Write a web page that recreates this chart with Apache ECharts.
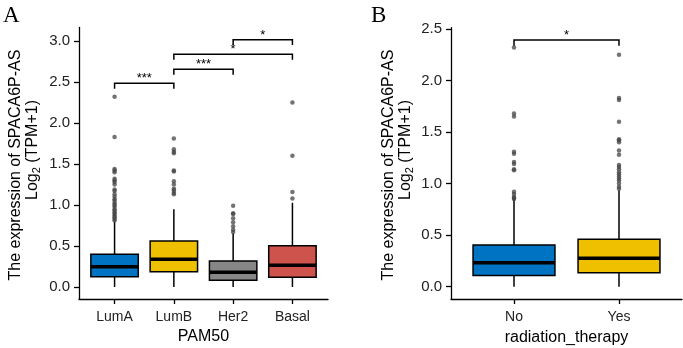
<!DOCTYPE html>
<html><head><meta charset="utf-8">
<script src="https://cdn.jsdelivr.net/npm/echarts@6/dist/echarts.min.js"></script>
<style>html,body{margin:0;padding:0;background:#fff}#c{width:683px;height:348px}</style>
</head><body><div id="c"></div>
<script>
// ---------- Panel A data ----------
const categoriesA = ['LumA', 'LumB', 'Her2', 'Basal'];
// [whisker low, Q1, median, Q3, whisker high]
const statsA = [
  [0.00, 0.126, 0.248, 0.399, 0.80],
  [0.00, 0.187, 0.338, 0.561, 0.948],
  [0.00, 0.082, 0.179, 0.317, 0.655],
  [0.00, 0.118, 0.265, 0.504, 1.028]
];
const outliersLumA = [0.81, 0.83, 0.85, 0.87, 0.89, 0.91, 0.93, 0.95, 0.98, 1.00, 1.02, 1.05, 1.07, 1.10, 1.13, 1.17, 1.19, 1.25, 1.28, 1.30, 1.32, 1.40, 1.42, 1.44, 1.83, 2.32];
const outliersLumB = [1.13, 1.15, 1.18, 1.20, 1.25, 1.29, 1.41, 1.42, 1.63, 1.65, 1.68, 1.81];
const outliersHer2 = [0.67, 0.70, 0.74, 0.79, 0.84, 0.89, 0.90, 0.99];
const outliersBasal = [1.08, 1.16, 1.60, 2.25];
const outliersA = [outliersLumA, outliersLumB, outliersHer2, outliersBasal];
const yTicksA = [0, 0.5, 1, 1.5, 2, 2.5, 3];
// [from category, to category, height]
const bracketsA = [
  [1, 2, 2.484],
  [2, 3, 2.655],
  [2, 4, 2.838],
  [3, 4, 3.016]
];
const bracketLabelsA = ['***', '***', '*', '*'];

// ---------- Panel B data ----------
const categoriesB = ['No', 'Yes'];
const statsB = [
  [0.00, 0.110, 0.233, 0.404, 0.845],
  [0.00, 0.136, 0.275, 0.460, 0.935]
];
const outliersNo = [0.85, 0.86, 0.87, 0.90, 0.92, 1.13, 1.14, 1.19, 1.21, 1.29, 1.31, 1.65, 1.68, 2.32];
const outliersYes = [0.95, 0.97, 1.00, 1.03, 1.05, 1.07, 1.09, 1.11, 1.14, 1.16, 1.18, 1.28, 1.32, 1.40, 1.42, 1.43, 1.60, 1.81, 1.83, 2.25];
const outliersB = [outliersNo, outliersYes];
const yTicksB = [0, 0.5, 1, 1.5, 2, 2.5];
const bracketsB = [
  [1, 2, 2.393]
];
const bracketLabelsB = ['*'];

const colorsA = ['#0073C2', '#EFC000', '#868686', '#CD534C'];
const colorsB = ['#0073C2', '#EFC000'];

const FONT = '"Liberation Sans", Arial, sans-serif';
const SERIF = '"Liberation Serif", "Times New Roman", serif';

function boxData(stats) { return stats.map((s, i) => [i + 1].concat(s)); }
function outData(outs) {
  const r = [];
  outs.forEach((arr, i) => arr.forEach(v => r.push([i + 1, v])));
  return r;
}
function boxRender(colors, w) {
  return function (params, api) {
    const x = api.value(0);
    const lo = api.value(1), q1 = api.value(2), med = api.value(3), q3 = api.value(4), hi = api.value(5);
    const pLo = api.coord([x, lo]), pQ1 = api.coord([x, q1]), pQ3 = api.coord([x, q3]), pHi = api.coord([x, hi]);
    const tl = api.coord([x - w / 2, q3]), br = api.coord([x + w / 2, q1]);
    const mL = api.coord([x - w / 2, med]), mR = api.coord([x + w / 2, med]);
    const ls = { stroke: '#000', lineWidth: 1.5 };
    return {
      type: 'group', children: [
        { type: 'line', shape: { x1: pLo[0], y1: pLo[1], x2: pQ1[0], y2: pQ1[1] }, style: ls },
        { type: 'line', shape: { x1: pQ3[0], y1: pQ3[1], x2: pHi[0], y2: pHi[1] }, style: ls },
        { type: 'rect', shape: { x: tl[0], y: tl[1], width: br[0] - tl[0], height: br[1] - tl[1] },
          style: { fill: colors[params.dataIndex], stroke: '#000', lineWidth: 1.5 } },
        { type: 'line', shape: { x1: mL[0], y1: mL[1], x2: mR[0], y2: mR[1] }, style: { stroke: '#000', lineWidth: 3.5 } }
      ]
    };
  };
}
function bracketRender(labels, tickUnits) {
  return function (params, api) {
    const x1 = api.value(0), x2 = api.value(1), y = api.value(2);
    const label = labels[params.dataIndex];
    const a = api.coord([x1, y - tickUnits]), b = api.coord([x1, y]), c = api.coord([x2, y]), d = api.coord([x2, y - tickUnits]);
    return {
      type: 'group', children: [
        { type: 'polyline', shape: { points: [a, b, c, d] }, style: { stroke: '#000', lineWidth: 1.5, fill: null } },
        { type: 'text', x: (b[0] + c[0]) / 2, y: b[1] + 2,
          style: { text: label, font: '13px ' + FONT, fill: '#000', align: 'center', verticalAlign: 'bottom' } }
      ]
    };
  };
}

function yAxis(gi, min, max, ticks) {
  return {
    type: 'value', gridIndex: gi, min: min, max: max,
    splitLine: { show: false },
    axisLine: { show: true, lineStyle: { color: '#000', width: 1.3 } },
    axisTick: { show: true, length: 5, lineStyle: { color: '#000', width: 1.3 }, customValues: ticks },
    axisLabel: { customValues: ticks, margin: 9, color: '#222', fontSize: 15, fontFamily: FONT,
      formatter: v => v.toFixed(1) }
  };
}
function xAxis(gi, cats) {
  const ticks = cats.map((c, i) => i + 1);
  return {
    type: 'value', gridIndex: gi, min: 0.4, max: cats.length + 0.6,
    splitLine: { show: false },
    axisLine: { show: true, onZero: false, lineStyle: { color: '#000', width: 1.3 } },
    axisTick: { show: true, length: 5, lineStyle: { color: '#000', width: 1.3 }, customValues: ticks },
    axisLabel: { customValues: ticks, margin: 11, color: '#222', fontSize: 14, fontFamily: FONT,
      formatter: v => cats[Math.round(v) - 1] || '' }
  };
}

const chart = echarts.init(document.getElementById('c'), null, { renderer: 'canvas' });
const option = {
  animation: false,
  backgroundColor: '#fff',
  grid: [
    { left: 79, top: 27.5, width: 249, height: 271.5 },
    { left: 451, top: 27.7, width: 231, height: 271.3 }
  ],
  xAxis: [xAxis(0, categoriesA), xAxis(1, categoriesB)],
  yAxis: [yAxis(0, -0.146, 3.165, yTicksA), yAxis(1, -0.119, 2.512, yTicksB)],
  series: [
    { type: 'scatter', xAxisIndex: 0, yAxisIndex: 0, data: outData(outliersA), symbolSize: 4.5,
      itemStyle: { color: '#444', opacity: 0.75 }, z: 3 },
    { type: 'custom', xAxisIndex: 0, yAxisIndex: 0, data: boxData(statsA), renderItem: boxRender(colorsA, 0.8),
      encode: { x: 0, y: [1, 2, 3, 4, 5] }, z: 2 },
    { type: 'custom', xAxisIndex: 0, yAxisIndex: 0, data: bracketsA, renderItem: bracketRender(bracketLabelsA, 0.065),
      encode: { x: [0, 1], y: 2 }, z: 4 },
    { type: 'scatter', xAxisIndex: 1, yAxisIndex: 1, data: outData(outliersB), symbolSize: 4.5,
      itemStyle: { color: '#444', opacity: 0.75 }, z: 3 },
    { type: 'custom', xAxisIndex: 1, yAxisIndex: 1, data: boxData(statsB), renderItem: boxRender(colorsB, 0.78),
      encode: { x: 0, y: [1, 2, 3, 4, 5] }, z: 2 },
    { type: 'custom', xAxisIndex: 1, yAxisIndex: 1, data: bracketsB, renderItem: bracketRender(bracketLabelsB, 0.055),
      encode: { x: [0, 1], y: 2 }, z: 4 }
  ],
  graphic: [
    { type: 'text', left: 3, top: 4, style: { text: 'A', font: '23px ' + SERIF, fill: '#000' } },
    { type: 'text', left: 371, top: 4, style: { text: 'B', font: '23px ' + SERIF, fill: '#000' } },
    { type: 'text', x: 16, y: 165, rotation: Math.PI / 2,
      style: { text: 'The expression of SPACA6P-AS', font: '16px ' + FONT, fill: '#000', align: 'center', verticalAlign: 'middle' } },
    { type: 'text', x: 32.5, y: 150, rotation: Math.PI / 2,
      style: { text: 'Log{s|2} (TPM+1)', font: '16px ' + FONT, fill: '#000', align: 'center', verticalAlign: 'middle',
        rich: { s: { fontSize: 11, fontFamily: FONT, verticalAlign: 'bottom', padding: [8, 0, 0, 0] } } } },
    { type: 'text', x: 389, y: 165, rotation: Math.PI / 2,
      style: { text: 'The expression of SPACA6P-AS', font: '16px ' + FONT, fill: '#000', align: 'center', verticalAlign: 'middle' } },
    { type: 'text', x: 405.5, y: 150, rotation: Math.PI / 2,
      style: { text: 'Log{s|2} (TPM+1)', font: '16px ' + FONT, fill: '#000', align: 'center', verticalAlign: 'middle',
        rich: { s: { fontSize: 11, fontFamily: FONT, verticalAlign: 'bottom', padding: [8, 0, 0, 0] } } } },
    { type: 'text', x: 203.5, y: 337, style: { text: 'PAM50', font: '16px ' + FONT, fill: '#000', align: 'center', verticalAlign: 'middle' } },
    { type: 'text', x: 566.5, y: 338, style: { text: 'radiation_therapy', font: '16px ' + FONT, fill: '#000', align: 'center', verticalAlign: 'middle' } }
  ]
};
chart.setOption(option);
</script>
</body></html>
